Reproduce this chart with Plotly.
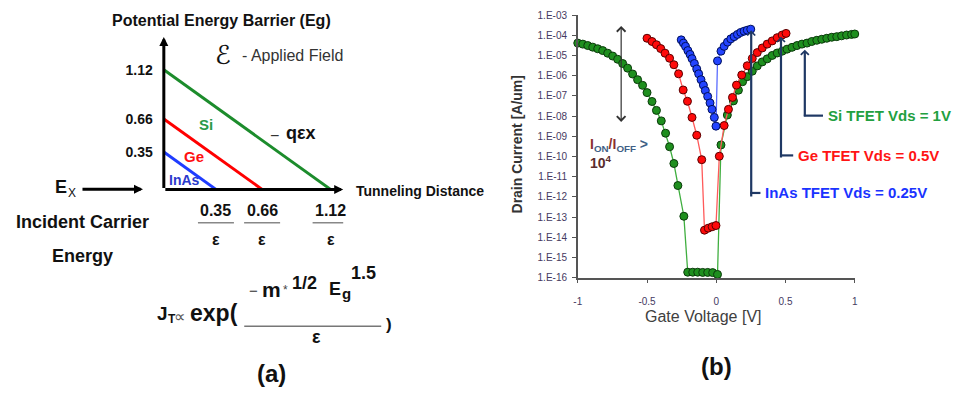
import plotly.graph_objects as go

W, H = 959, 403
FONT = "Arial, Liberation Sans, Helvetica, sans-serif"

# ---------------- panel (b) data : drain current vs gate voltage ----------------
si_vg = [-1.0, -0.964, -0.928, -0.892, -0.856, -0.82, -0.784, -0.748, -0.712, -0.676,
         -0.64, -0.604, -0.568, -0.532, -0.5, -0.464, -0.432, -0.397, -0.366, -0.337,
         -0.306, -0.277, -0.234, -0.206, -0.17, -0.134, -0.098, -0.062, -0.026, 0.009,
         0.034, 0.08, 0.124, 0.16, 0.19, 0.224, 0.26, 0.296, 0.332, 0.368,
         0.404, 0.44, 0.476, 0.511, 0.547, 0.583, 0.619, 0.655, 0.69, 0.726,
         0.762, 0.798, 0.834, 0.87, 0.905, 0.941, 0.977, 1.0]
si_log_id = [-4.39, -4.44, -4.51, -4.59, -4.67, -4.76, -4.89, -5.03, -5.19, -5.40,
             -5.63, -5.92, -6.20, -6.48, -6.84, -7.28, -7.72, -8.24, -8.85, -9.52,
             -10.35, -11.44, -12.96, -15.73, -15.73, -15.73, -15.74, -15.74, -15.75, -15.84,
             -9.43, -7.95, -7.25, -6.72, -6.30, -6.05, -5.78, -5.52, -5.32, -5.17,
             -5.00, -4.88, -4.79, -4.69, -4.60, -4.51, -4.44, -4.39, -4.31, -4.25,
             -4.20, -4.15, -4.10, -4.07, -4.03, -3.99, -3.96, -3.94]

ge_vg = [-0.50, -0.464, -0.432, -0.401, -0.37, -0.337, -0.306, -0.272, -0.239, -0.208,
         -0.175, -0.141, -0.105, -0.085, -0.058, -0.03, -0.002, 0.022, 0.057, 0.088,
         0.117, 0.146, 0.184, 0.224, 0.26, 0.296, 0.332, 0.368, 0.404, 0.44,
         0.476, 0.504]
ge_log_id = [-4.15, -4.31, -4.47, -4.66, -4.89, -5.14, -5.46, -5.91, -6.71, -7.27,
             -8.07, -8.95, -10.16, -13.65, -13.55, -13.48, -13.42, -9.99, -8.47, -7.67,
             -7.08, -6.47, -5.97, -5.51, -5.15, -4.86, -4.63, -4.44, -4.28, -4.12,
             -3.99, -3.91]

inas_vg = [-0.253, -0.237, -0.222, -0.205, -0.189, -0.175, -0.158, -0.141, -0.127, -0.110,
           -0.093, -0.079, -0.062, -0.045, -0.031, -0.014, -0.002, 0.009, 0.034, 0.057,
           0.081, 0.105, 0.129, 0.153, 0.177, 0.201, 0.224, 0.249]
inas_log_id = [-4.23, -4.39, -4.55, -4.76, -4.95, -5.16, -5.40, -5.67, -5.91, -6.20,
               -6.47, -6.74, -7.03, -7.35, -7.67, -8.07, -8.50, -5.27, -4.79, -4.55,
               -4.34, -4.18, -4.07, -3.96, -3.86, -3.80, -3.75, -3.70]

id_tick_vals = [1e-3, 1e-4, 1e-5, 1e-6, 1e-7, 1e-8, 1e-9, 1e-10, 1e-11, 1e-12,
                1e-13, 1e-14, 1e-15, 1e-16]
id_tick_text = ["1.E-03", "1.E-04", "1.E-05", "1.E-06", "1.E-07", "1.E-08", "1.E-09",
                "1.E-10", "1.E-11", "1.E-12", "1.E-13", "1.E-14", "1.E-15", "1.E-16"]
vg_tick_vals = [-1, -0.5, 0, 0.5, 1]
vg_tick_text = ["-1", "-0.5", "0", "0.5", "1"]

series_names = ["Si TFET Vds = 1V", "Ge TFET Vds = 0.5V", "InAs TFET Vds = 0.25V"]

# ---------------- panel (a) data : potential barrier schematic ----------------
materials = ["Si", "Ge", "InAs"]
band_gap = [1.12, 0.66, 0.35]
band_gap_text = ["1.12", "0.66", "0.35"]
field = 1.0  # schematic units

GREEN, RED, BLUE = "#1c8c2c", "#ff0000", "#1f3cff"
mat_colors = [GREEN, RED, BLUE]
NAVY = "#1f3864"


def px(x):
    return x / W


def py(y):
    return 1 - y / H


annotations = []
shapes = []


def text(x, y, s, size, color="#111", bold=False, xanchor="center", family=FONT, angle=0):
    annotations.append(dict(
        x=px(x), y=py(y), xref="paper", yref="paper", text=s, showarrow=False,
        xanchor=xanchor, yanchor="middle", textangle=angle,
        font=dict(size=size, color=color, family=family,
                  weight="bold" if bold else "normal")))


fig = go.Figure()

# ---- panel (b) traces ----
series = [
    (si_vg, si_log_id, "#1e8f1e", "#0b3a0b", "#3fae3f"),
    (ge_vg, ge_log_id, "#ff0a0a", "#5a0000", "#ff5a5a"),
    (inas_vg, inas_log_id, "#2344ff", "#00105a", "#5a6cff"),
]
for (vg, lg, fill, edge, lc), name in zip(series, series_names):
    fig.add_trace(go.Scatter(
        x=vg, y=[10 ** v for v in lg], mode="lines+markers", name=name,
        xaxis="x", yaxis="y", cliponaxis=False,
        line=dict(color=lc, width=1.3),
        marker=dict(size=8, color=fill, line=dict(color=edge, width=1))))

# ---- panel (a) traces: barrier lines Eg - q*E*x ----
for m, eg, c in zip(materials, band_gap, mat_colors):
    fig.add_trace(go.Scatter(
        x=[0, eg / field], y=[eg, 0], mode="lines", name=m,
        xaxis="x2", yaxis="y2", line=dict(color=c, width=3)))

# ---------------- panel (a) decorations ----------------
Y2_TOP = (189 - 32) / 110.0
X2_TOP = (341.7 - 161) / 150.0
arrow_common = dict(showarrow=True, arrowhead=2, arrowsize=0.6, arrowwidth=3,
                    arrowcolor="#000", text="", standoff=0)
annotations.append(dict(x=X2_TOP, y=0, xref="x2", yref="y2", ax=0, ay=0,
                        axref="x2", ayref="y2", **arrow_common))
annotations.append(dict(x=0, y=Y2_TOP, xref="x2", yref="y2", ax=0, ay=0,
                        axref="x2", ayref="y2", **arrow_common))
# E_x arrow
annotations.append(dict(x=px(140), y=py(189), xref="paper", yref="paper",
                        ax=-62, ay=0, **arrow_common))

text(219.5, 15, "Potential Energy Barrier (Eg)", 16, "#111", bold=True)
text(221, 51, "ℰ", 26, "#111", family="DejaVu Serif, DejaVu Sans, Noto Sans, serif")
text(238, 51, "- Applied Field", 16, "#333", xanchor="left")
text(353, 191, "Tunneling Distance", 14, "#111", bold=True, xanchor="left")
text(49, 187, "E", 18, "#111", bold=True, xanchor="left")
text(62, 193, "X", 12, "#111", xanchor="left")
text(79.5, 223, "Incident Carrier", 18, "#111", bold=True)
text(79, 258, "Energy", 18, "#111", bold=True)

# material labels
text(203, 122, "Si", 15, "#2a9a48", bold=True)
text(191, 155, "Ge", 15, "#ff1010", bold=True)
text(164, 179, "InAs", 14, "#2a3acc", bold=True, xanchor="left")
text(272, 133, "−", 16, "#333")
text(282, 131, "qεx", 18, "#111", bold=True, xanchor="left")

# tunneling distances Eg/E below the axis
for eg, lab in zip(band_gap, band_gap_text):
    annotations.append(dict(x=eg / field, y=py(210.7), xref="x2", yref="paper",
                            text=lab, showarrow=False, xanchor="center", yanchor="middle",
                            font=dict(size=16, color="#111", family=FONT, weight="bold")))
    annotations.append(dict(x=eg / field, y=py(240.3), xref="x2", yref="paper",
                            text="ε", showarrow=False, xanchor="center", yanchor="middle",
                            font=dict(size=16, color="#111", family=FONT, weight="bold")))
    shapes.append(dict(type="line", xref="x2", xsizemode="pixel", xanchor=eg / field,
                       x0=-18, x1=18, yref="paper", y0=py(223.3), y1=py(223.3),
                       line=dict(color="#888", width=1.5)))

# formula J_T ~ exp(-m*^1/2 Eg^1.5 / E)
text(152, 316.5, "J", 19, "#111", bold=True, xanchor="left")
text(163, 323, "T", 12, "#111", bold=True, xanchor="left")
text(177, 320, "∝", 16, "#555", family="DejaVu Sans, Noto Sans, sans-serif")
text(185, 316, "exp(", 23, "#111", bold=True, xanchor="left")
shapes.append(dict(type="line", xref="paper", yref="paper", x0=px(242), x1=px(380),
                   y0=py(330), y1=py(330), line=dict(color="#777", width=1.5)))
text(251, 293, "−", 15, "#333")
text(258, 292.6, "m", 21, "#111", bold=True, xanchor="left")
text(283.5, 293, "*", 12, "#444")
text(288, 285.7, "1/2", 18, "#111", bold=True, xanchor="left")
text(325, 291.7, "E", 18, "#111", bold=True, xanchor="left")
text(338, 296.8, "g", 15, "#111", bold=True, xanchor="left")
text(348, 275.7, "1.5", 18, "#111", bold=True, xanchor="left")
text(315, 341.4, "ε", 18, "#111", bold=True)
text(383, 328, ")", 17, "#111", bold=True, xanchor="left")

text(269, 379, "(a)", 24, "#111", bold=True)

# ---------------- panel (b) decorations ----------------
text(717.5, 372, "(b)", 24, "#111", bold=True)
text(517, 142.5, "Drain Current [A/um]", 14, "#333", bold=True, angle=-90)
text(704.5, 320, "Gate Voltage [V]", 16, "#404040")

c1, c2 = "#8b2f2f", "#3f5f86"
text(588, 143,
     f"<span style='color:{c1}'>I</span><sub><span style='color:{c2}'>ON</span></sub>"
     f"<span style='color:{c1}'>/I</span><sub><span style='color:{c2}'>OFF</span></sub>"
     f"<span style='color:{c2}'> &gt;</span>", 14, c1, bold=True, xanchor="left")
text(588, 161, "10<sup>4</sup>", 14, "#5a2d2d", bold=True, xanchor="left")

# ON/OFF double arrow
annotations.append(dict(x=px(621.7), y=py(20.7), xref="paper", yref="paper", ax=0, ay=97.3,
                        showarrow=True, text="", arrowside="end+start", arrowhead=4,
                        startarrowhead=4, arrowsize=1.4, startarrowsize=1.4,
                        arrowwidth=1.2, arrowcolor="#333", standoff=0, startstandoff=0))

# pointers to curves
pointers = [
    (806.7, 45, 113, 825, series_names[0], 828, "#22a040"),
    (782.7, 31.7, 154, 795, series_names[1], 798, "#ff1414"),
    (752.7, 25, 192.7, 762, series_names[2], 765, "#1a33ff"),
]
for xv, ytip, ybot, xend, lab, xlab, col in pointers:
    annotations.append(dict(x=px(xv), y=py(ytip), xref="paper", yref="paper", ax=0,
                            ay=ybot - ytip, showarrow=True, text="", arrowhead=4,
                            arrowsize=0.7, arrowwidth=2.2, arrowcolor=NAVY, standoff=0))
    shapes.append(dict(type="line", xref="paper", yref="paper", x0=px(xv - 1), x1=px(xend),
                       y0=py(ybot), y1=py(ybot), line=dict(color=NAVY, width=2.2)))
    text(xlab, ybot, lab, 15, col, bold=True, xanchor="left")

axis_col = "#555"
fig.update_layout(
    width=W, height=H, margin=dict(l=0, r=0, t=0, b=0),
    paper_bgcolor="white", plot_bgcolor="white", showlegend=False,
    xaxis=dict(domain=[px(578), px(857)], range=[-1, 1], anchor="y",
               tickvals=vg_tick_vals, ticktext=vg_tick_text, ticks="outside", ticklen=4,
               tickcolor=axis_col, showline=True, linecolor=axis_col, linewidth=1.5,
               showgrid=False, zeroline=False, ticklabelstandoff=10,
               tickfont=dict(size=10, color="#45395f", family=FONT)),
    yaxis=dict(domain=[py(280), py(9.3)], type="log", range=[-16, -3], anchor="x",
               tickvals=id_tick_vals, ticktext=id_tick_text, ticks="outside", ticklen=4,
               tickcolor=axis_col, showline=True, linecolor=axis_col, linewidth=1.5,
               showgrid=False, zeroline=False, ticklabelstandoff=3,
               tickfont=dict(size=10, color="#45395f", family=FONT)),
    xaxis2=dict(domain=[px(161), px(341.7)], range=[0, X2_TOP], anchor="y2",
                visible=False, showgrid=False, zeroline=False),
    yaxis2=dict(domain=[py(189), py(32)], range=[0, Y2_TOP], anchor="x2",
                tickvals=band_gap, ticktext=band_gap_text, ticks="", showline=False,
                showgrid=False, zeroline=False, ticklabelstandoff=10,
                tickfont=dict(size=14, color="#111", family=FONT, weight="bold")),
    annotations=annotations, shapes=shapes,
)

fig.write_html("out.html", config={"displayModeBar": False},
               post_script="document.body.style.margin='0';")
